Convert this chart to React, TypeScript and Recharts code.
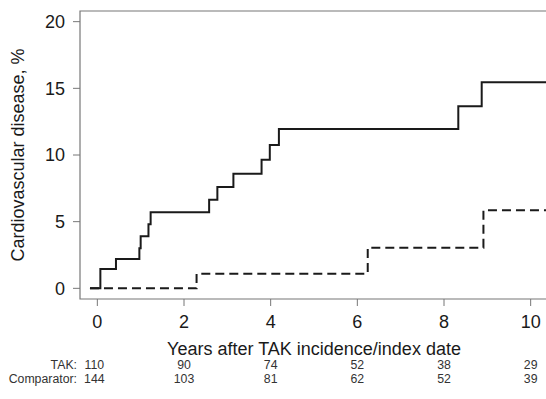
import { Label, Line, LineChart, ReferenceArea, XAxis, YAxis } from "recharts";

// event times (years) and cumulative incidence (%)
const takTimes = [-0.17, 0.07, 0.43, 0.97, 1.0, 1.18, 1.23, 2.58, 2.77, 3.14, 3.79, 3.98, 4.19, 8.33, 8.87, 10.4];
const takValues = [0, 1.45, 2.2, 3.0, 3.9, 4.8, 5.7, 6.65, 7.6, 8.6, 9.65, 10.75, 11.95, 13.65, 15.45, 15.45];

const compTimes = [-0.17, 2.29, 6.24, 8.91, 10.4];
const compValues = [0, 1.1, 3.05, 5.85, 5.85];

const xTicks = [0, 2, 4, 6, 8, 10];
const yTicks = [0, 5, 10, 15, 20];

// number at risk
const takAtRisk = [110, 90, 74, 52, 38, 29];
const compAtRisk = [144, 103, 81, 62, 52, 39];

const takData = takTimes.map((t, i) => ({ t, v: takValues[i] }));
const compData = compTimes.map((t, i) => ({ t, v: compValues[i] }));

const font = "'Liberation Sans', Arial, Helvetica, sans-serif";
const ink = "#1a1a1a";
const frame = "#777";

function RiskTick(props: any) {
  const { x, y, index } = props;
  // first column sits right after the row labels
  const cx = index === 0 ? x - 3 : x;
  return (
    <g fontFamily={font} fontSize={12.3} fill="#333" textAnchor="middle">
      <text x={cx} y={y + 9} dominantBaseline="central">{takAtRisk[index]}</text>
      <text x={cx} y={y + 22.5} dominantBaseline="central">{compAtRisk[index]}</text>
    </g>
  );
}

function RiskLabels(props: any) {
  const { viewBox } = props;
  const x = viewBox.x - 3;
  return (
    <g fontFamily={font} fontSize={12.3} fill="#333" textAnchor="end">
      <text x={x} y={viewBox.y + 9} dominantBaseline="central">TAK:</text>
      <text x={x} y={viewBox.y + 22.5} dominantBaseline="central">Comparator:</text>
    </g>
  );
}

export default function App() {
  return (
    <div style={{ position: "absolute", left: 0, top: 0, width: 546, height: 399, overflow: "hidden", background: "#fff" }}>
      <LineChart width={560} height={399} data={takData} margin={{ top: 11, right: 12, bottom: 0, left: 0 }}>
        <XAxis
          xAxisId="main"
          dataKey="t"
          type="number"
          domain={[-0.4, 10.4]}
          ticks={xTicks}
          allowDataOverflow
          height={57}
          axisLine={false}
          tickSize={7}
          tickMargin={9}
          tickLine={{ stroke: frame }}
          tick={{ fontSize: 18, fill: ink, fontFamily: font }}
        >
          <Label value="Years after TAK incidence/index date" position="insideBottom" offset={1} style={{ fontSize: 18, fill: ink, fontFamily: font }} />
        </XAxis>
        <XAxis
          xAxisId="risk"
          dataKey="t"
          type="number"
          domain={[-0.4, 10.4]}
          ticks={xTicks}
          allowDataOverflow
          height={43}
          axisLine={false}
          tickLine={false}
          tickSize={0}
          tickMargin={0}
          tick={<RiskTick />}
          label={<RiskLabels />}
        />
        <YAxis
          type="number"
          domain={[-0.8, 20.8]}
          ticks={yTicks}
          allowDataOverflow
          width={80}
          axisLine={false}
          tickSize={7}
          tickMargin={8}
          tickLine={{ stroke: frame }}
          tick={{ fontSize: 18, fill: ink, fontFamily: font }}
        >
          <Label value="Cardiovascular disease, %" angle={-90} position="insideLeft" offset={18} style={{ fontSize: 18, fill: ink, fontFamily: font, textAnchor: "middle" }} />
        </YAxis>
        <ReferenceArea xAxisId="main" x1={-0.4} x2={10.4} y1={-0.8} y2={20.8} fill="none" stroke={frame} strokeWidth={1.2} ifOverflow="visible" />
        <Line xAxisId="main" data={takData} dataKey="v" type="stepAfter" stroke={ink} strokeWidth={2} dot={false} isAnimationActive={false} />
        <Line xAxisId="main" data={compData} dataKey="v" type="stepAfter" stroke={ink} strokeWidth={2} strokeDasharray="9 5" dot={false} isAnimationActive={false} />
      </LineChart>
    </div>
  );
}
